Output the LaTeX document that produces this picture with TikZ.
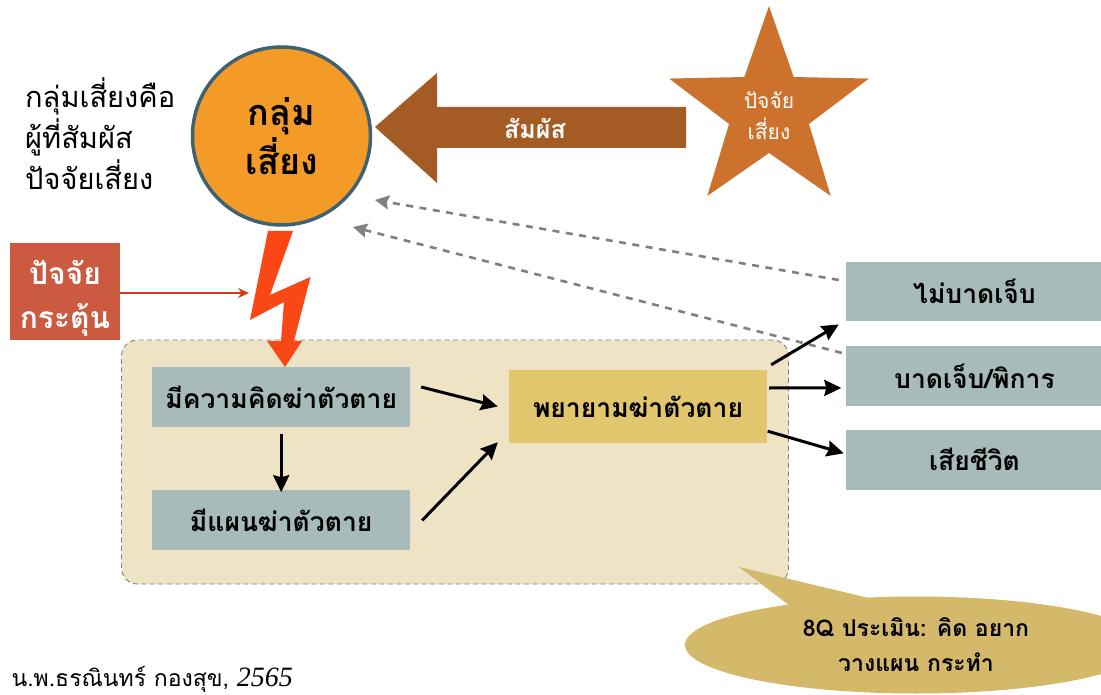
\documentclass[tikz,border=0pt]{standalone}
\usepackage{fontspec}
\setmainfont[Script=Thai]{Loma}
\newfontfamily\latinserif{Liberation Serif}
\usepackage{tikz}
\usetikzlibrary{positioning,arrows.meta,shapes.geometric}
\definecolor{riskorange}{HTML}{F39A27}
\definecolor{riskring}{HTML}{3F6272}
\definecolor{contactbrown}{HTML}{A55C24}
\definecolor{starbrown}{HTML}{CC722C}
\definecolor{triggerred}{HTML}{CB5A40}
\definecolor{triggerline}{HTML}{D43A1A}
\definecolor{boltred}{HTML}{FB4616}
\definecolor{zonebeige}{HTML}{EFE3C6}
\definecolor{stagegrey}{HTML}{A7BBBB}
\definecolor{attemptyellow}{HTML}{E2C66D}
\definecolor{bubblegold}{HTML}{D5B96B}

\begin{document}
\begin{tikzpicture}[x=1pt,y=-1pt,node distance=63pt,
    stagebox/.style={rectangle, fill=stagegrey, inner sep=0pt, font=\bfseries\fontsize{26.5}{32}\selectfont},
    thinkbox/.style={stagebox, minimum width=258.5pt, minimum height=60pt},
    endbox/.style={stagebox, minimum width=257pt, minimum height=59.5pt},
    bigarrow/.style={-{Stealth[length=17pt,width=16pt,inset=2pt]}, line width=3pt},
    backarrow/.style={-{Stealth[length=14pt,width=14pt,inset=2pt]}, line width=2.6pt, draw=black!50, dash pattern=on 7pt off 6.5pt}]
\useasboundingbox (0,0) rectangle (1101,695);

\node[draw=black!50, line width=0.9pt, dash pattern=on 5pt off 3.5pt, fill=zonebeige, rounded corners=16pt, minimum width=667pt, minimum height=244pt, inner sep=0pt] (zone) at (455,462) {};

\node[circle, draw=riskring, line width=3.5pt, fill=riskorange, minimum size=178pt, inner sep=0pt, align=center, font=\bfseries\fontsize{36}{49}\selectfont] (risk) at (281.5,136) {กลุ่ม\\เสี่ยง};
\node[anchor=north west, align=left, inner sep=0pt, font=\fontsize{29}{41}\selectfont] (define) at (25,77) {กลุ่มเสี่ยงคือ\\ผู้ที่สัมผัส\\ปัจจัยเสี่ยง};

\fill[contactbrown] (375,127) -- (437,73) -- (437,107) -- (686,107) -- (686,148) -- (437,148) -- (437,183) -- cycle;
\node[text=white, font=\bfseries\fontsize{25}{25}\selectfont] (contact) at (535,128) {สัมผัส};
\node[star, star points=5, star point ratio=2.5, fill=starbrown, minimum size=210pt, inner sep=0pt, text=white, align=center, font=\fontsize{21}{31}\selectfont] (factor) at (769,111) {\rule{0pt}{27pt}ปัจจัย\\เสี่ยง};

\node[rectangle, fill=triggerred, minimum width=110pt, minimum height=97pt, inner sep=0pt, text=white, align=center, font=\bfseries\fontsize{30}{44}\selectfont] (trigger) at (65,291.5) {\rule{0pt}{37pt}ปัจจัย\\กระตุ้น};

\node[thinkbox] (thought) at (281.2,397) {มีความคิดฆ่าตัวตาย};
\node[thinkbox, below=of thought] (plan) {มีแผนฆ่าตัวตาย};
\node[rectangle, fill=attemptyellow, minimum width=258pt, minimum height=73pt, inner sep=0pt, font=\bfseries\fontsize{26.5}{32}\selectfont] (attempt) at (638,406.5) {พยายามฆ่าตัวตาย};

\node[endbox] (noinjury) at (974.5,291.5) {ไม่บาดเจ็บ};
\node[endbox, below=24.5pt of noinjury] (injury) {บาดเจ็บ/พิการ};
\node[endbox, below=24pt of injury] (death) {เสียชีวิต};

\coordinate (riskA) at (375,200);
\coordinate (riskB) at (353,227);
\coordinate (boltin) at (249,293);
\draw[backarrow] ([xshift=-7pt,yshift=11.5pt]noinjury.west) -- (riskA);
\draw[backarrow] ([xshift=-4pt,yshift=-7pt]injury.north west) -- (riskB);

\fill[boltred] (268,231) -- (293,231) -- (270,295) -- (310.5,277) -- (294,341) -- (302,341) -- (285,367) -- (267,341) -- (281,341) -- (284,302) -- (250,320) -- cycle;
\draw[-{Stealth[length=11pt,width=10pt]}, draw=triggerline, line width=1.5pt] ([yshift=-1.5pt]trigger.east) -- (boltin);

\draw[bigarrow] ([xshift=10.5pt,yshift=10pt]thought.east) -- ([xshift=-11pt]attempt.west);
\draw[bigarrow, shorten <=7pt, shorten >=-2pt] (thought.south) -- (plan.north);
\draw[bigarrow] ([xshift=11.5pt]plan.east) -- ([xshift=-11pt,yshift=1pt]attempt.south west);
\draw[bigarrow] ([xshift=4pt,yshift=5pt]attempt.north east) -- ([xshift=-7pt,yshift=-3pt]noinjury.south west);
\draw[bigarrow] ([xshift=2pt,yshift=18.5pt]attempt.east) -- ([xshift=-4.5pt,yshift=-12pt]injury.west);
\draw[bigarrow] ([xshift=0.5pt,yshift=12pt]attempt.south east) -- ([xshift=-2pt,yshift=6.5pt]death.west);

\fill[bubblegold] (739,567) -- (873,599) -- (790,606) -- cycle;
\node[ellipse, fill=bubblegold, minimum width=462pt, minimum height=97pt, inner sep=0pt, align=center, font=\bfseries\fontsize{23}{35}\selectfont] (bubble) at (916,645) {8Q ประเมิน: คิด อยาก\\วางแผน กระทำ};
\node[anchor=base east, inner sep=0pt, font=\fontsize{23}{26}\selectfont] (source) at (293,686) {น.พ.ธรณินทร์ กองสุข, {\latinserif\itshape\fontsize{28}{28}\selectfont 2565}};
\end{tikzpicture}
\end{document}
